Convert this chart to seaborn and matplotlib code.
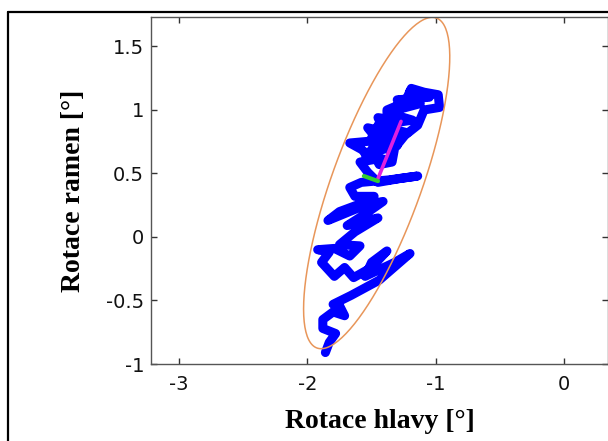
import matplotlib
matplotlib.use("Agg")
import matplotlib.pyplot as plt
import numpy as np
import pandas as pd
import seaborn as sns
from matplotlib.lines import Line2D

# trajectory of head vs shoulder rotation (bottom -> top)
head_rot = [-1.86, -1.83, -1.78, -1.88, -1.88, -1.80, -1.71, -1.75, -1.80, -1.66,
            -1.44, -1.20, -1.32, -1.55, -1.50, -1.38, -1.50, -1.64, -1.71, -1.79,
            -1.89, -1.83, -1.92, -1.79, -1.67, -1.59, -1.75, -1.63, -1.45, -1.58,
            -1.69, -1.55, -1.41, -1.55, -1.84, -1.75, -1.59, -1.48, -1.63, -1.67,
            -1.58, -1.36, -1.14, -1.28, -1.45, -1.53, -1.59, -1.48, -1.58, -1.67,
            -1.45, -1.53, -1.40, -1.45, -1.32, -1.38, -1.24, -1.19, -1.09, -0.98,
            -0.97, -1.09, -1.14, -1.24, -1.32, -1.34, -1.44, -1.50, -1.40, -1.32,
            -1.36, -1.55, -1.30, -1.50, -1.22, -1.45, -1.18, -1.38, -1.12, -1.30,
            -1.05, -1.20]
shoulder_rot = [-0.91, -0.83, -0.76, -0.72, -0.65, -0.59, -0.62, -0.54, -0.53, -0.46,
                -0.34, -0.13, -0.20, -0.31, -0.20, -0.11, -0.24, -0.32, -0.24, -0.31,
                -0.20, -0.12, -0.10, -0.09, -0.15, -0.07, -0.06, 0.04, 0.15, 0.12,
                0.09, 0.18, 0.28, 0.25, 0.13, 0.20, 0.26, 0.32, 0.32, 0.39,
                0.43, 0.45, 0.48, 0.46, 0.43, 0.51, 0.59, 0.61, 0.69, 0.74,
                0.76, 0.86, 0.83, 0.94, 0.92, 1.00, 1.06, 1.17, 1.14, 1.12,
                1.02, 1.00, 0.88, 0.80, 0.70, 0.59, 0.57, 0.69, 0.72, 0.86,
                0.60, 0.65, 0.72, 0.78, 0.82, 0.88, 0.92, 0.98, 1.05, 1.08,
                1.10, 1.15]

# confidence ellipse: centre, semi-axes, tilt in degrees
ell_center = (-1.46, 0.425)
ell_axes = (1.38, 0.35)
ell_angle = 70.3

# principal axes drawn from the centre
major_x = [-1.45, -1.27]
major_y = [0.46, 0.91]
minor_x = [-1.56, -1.45]
minor_y = [0.48, 0.44]

sns.set_style("ticks")
plt.rcParams["font.family"] = ["DejaVu Sans"]

fig = plt.figure(figsize=(6.08, 4.41), dpi=100)
ax = fig.add_axes([151 / 608, 77 / 441, 457 / 608, 347 / 441])

t = np.linspace(0, 2 * np.pi, 200)
th = np.deg2rad(ell_angle)
ex = ell_center[0] + ell_axes[0] * np.cos(t) * np.cos(th) - ell_axes[1] * np.sin(t) * np.sin(th)
ey = ell_center[1] + ell_axes[0] * np.cos(t) * np.sin(th) + ell_axes[1] * np.sin(t) * np.cos(th)

traj = pd.DataFrame({"head": head_rot, "shoulder": shoulder_rot})
sns.lineplot(data=traj, x="head", y="shoulder", sort=False, estimator=None,
             color="#0000ff", linewidth=6.5, ax=ax,
             solid_capstyle="round", solid_joinstyle="round")
sns.lineplot(x=ex, y=ey, sort=False, estimator=None, color="#e8965a",
             linewidth=1.1, ax=ax)
sns.lineplot(x=major_x, y=major_y, sort=False, estimator=None, color="#e020e0",
             linewidth=2.6, ax=ax)
sns.lineplot(x=minor_x, y=minor_y, sort=False, estimator=None, color="#33cc33",
             linewidth=3, ax=ax)

ax.set_xlim(-3.22, 0.344)
ax.set_ylim(-1, 1.732)
ax.set_xticks([-3, -2, -1, 0])
ax.set_xticklabels(["-3", "-2", "-1", "0"])
ax.set_yticks([-1, -0.5, 0, 0.5, 1, 1.5])
ax.set_yticklabels(["-1", "-0.5", "0", "0.5", "1", "1.5"])
ax.tick_params(direction="in", length=4, width=1, color="#333333",
               top=True, right=True, labelsize=14, labelcolor="#111111")
ax.tick_params(axis="x", pad=8)
ax.tick_params(axis="y", pad=5)
for s in ax.spines.values():
    s.set_color("#555555")
    s.set_linewidth(1)

lab_font = dict(family="Liberation Serif", fontweight="bold", fontsize=20, color="black")
ax.set_xlabel("Rotace hlavy [°]", labelpad=11, **lab_font)
ax.set_ylabel("Rotace ramen [°]", labelpad=14, **lab_font)

# outer frame of the embedded figure
fig.add_artist(Line2D([8 / 608, 8 / 608], [0, 1 - 12 / 441], color="black", linewidth=1.6))
fig.add_artist(Line2D([8 / 608, 1], [1 - 12 / 441, 1 - 12 / 441], color="black", linewidth=1.6))

fig.savefig("out.png", dpi=100, facecolor="white")
